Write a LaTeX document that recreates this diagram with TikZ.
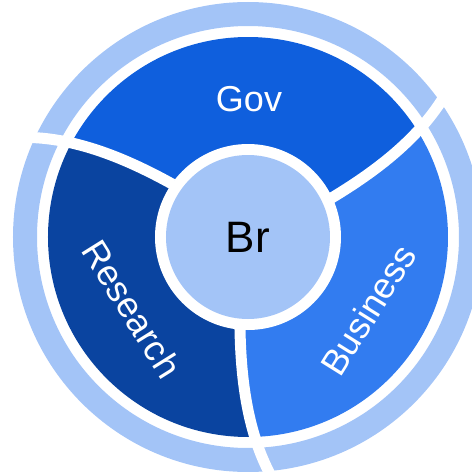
\documentclass[tikz,border=0pt]{standalone}
\usepackage{fontspec}
\setmainfont{Liberation Sans}
\usepackage{tikz}
\usetikzlibrary{positioning}
\usepackage{xcolor}
\definecolor{govblue}{HTML}{0F5FDD}
\definecolor{researchblue}{HTML}{0A44A0}
\definecolor{businessblue}{HTML}{327CF0}
\definecolor{ringblue}{HTML}{A3C4F7}

\begin{document}
\begin{tikzpicture}[
    x=1pt, y=1pt,
    sector/.style={draw=none},
    separator/.style={draw=white, line width=11pt},
    seglabel/.style={text=white, font=\fontsize{36}{40}\selectfont},
    corelabel/.style={text=black, font=\fontsize{44}{48}\selectfont}
]
\useasboundingbox (-248,-235) rectangle (224,237);

% ---- Sectors ----
\begin{scope}
    \clip (0,0) circle[radius=200];
    \fill[sector, govblue] (0,0) -- (25:92) .. controls (27.2:143.9) and (29.9:198.6) .. (36:245)
        arc[start angle=36, end angle=156, radius=245]
        .. controls (149.9:198.6) and (147.2:143.9) .. (145:92) -- cycle;
    \fill[sector, researchblue] (0,0) -- (145:92) .. controls (147.2:143.9) and (149.9:198.6) .. (156:245)
        arc[start angle=156, end angle=276, radius=245]
        .. controls (269.9:198.6) and (267.2:143.9) .. (265:92) -- cycle;
    \fill[sector, businessblue] (0,0) -- (265:92) .. controls (267.2:143.9) and (269.9:198.6) .. (276:245)
        arc[start angle=276, end angle=396, radius=245]
        .. controls (389.9:198.6) and (387.2:143.9) .. (385:92) -- cycle;
\end{scope}

% ---- Outer ring ----
\draw[ringblue, line width=24pt] (0,0) circle[radius=223];

% ---- Separators ----
\foreach \a in {0,120,240}
    \draw[separator] (25+\a:92) .. controls (27.2+\a:143.9) and (29.9+\a:198.6) .. (36+\a:245);

% ---- Core ----
\fill[white] (0,0) circle[radius=93];
\node[circle, fill=ringblue, minimum size=164pt, inner sep=0pt, corelabel] (core) at (0,0) {Br};

% ---- Labels ----
\node[seglabel] (gov) at (1,138) {Gov};
\node[seglabel, rotate=-58] (research) at (-116,-72) {Research};
\node[seglabel, rotate=58] (business) at (120,-73) {Business};

\end{tikzpicture}
\end{document}
